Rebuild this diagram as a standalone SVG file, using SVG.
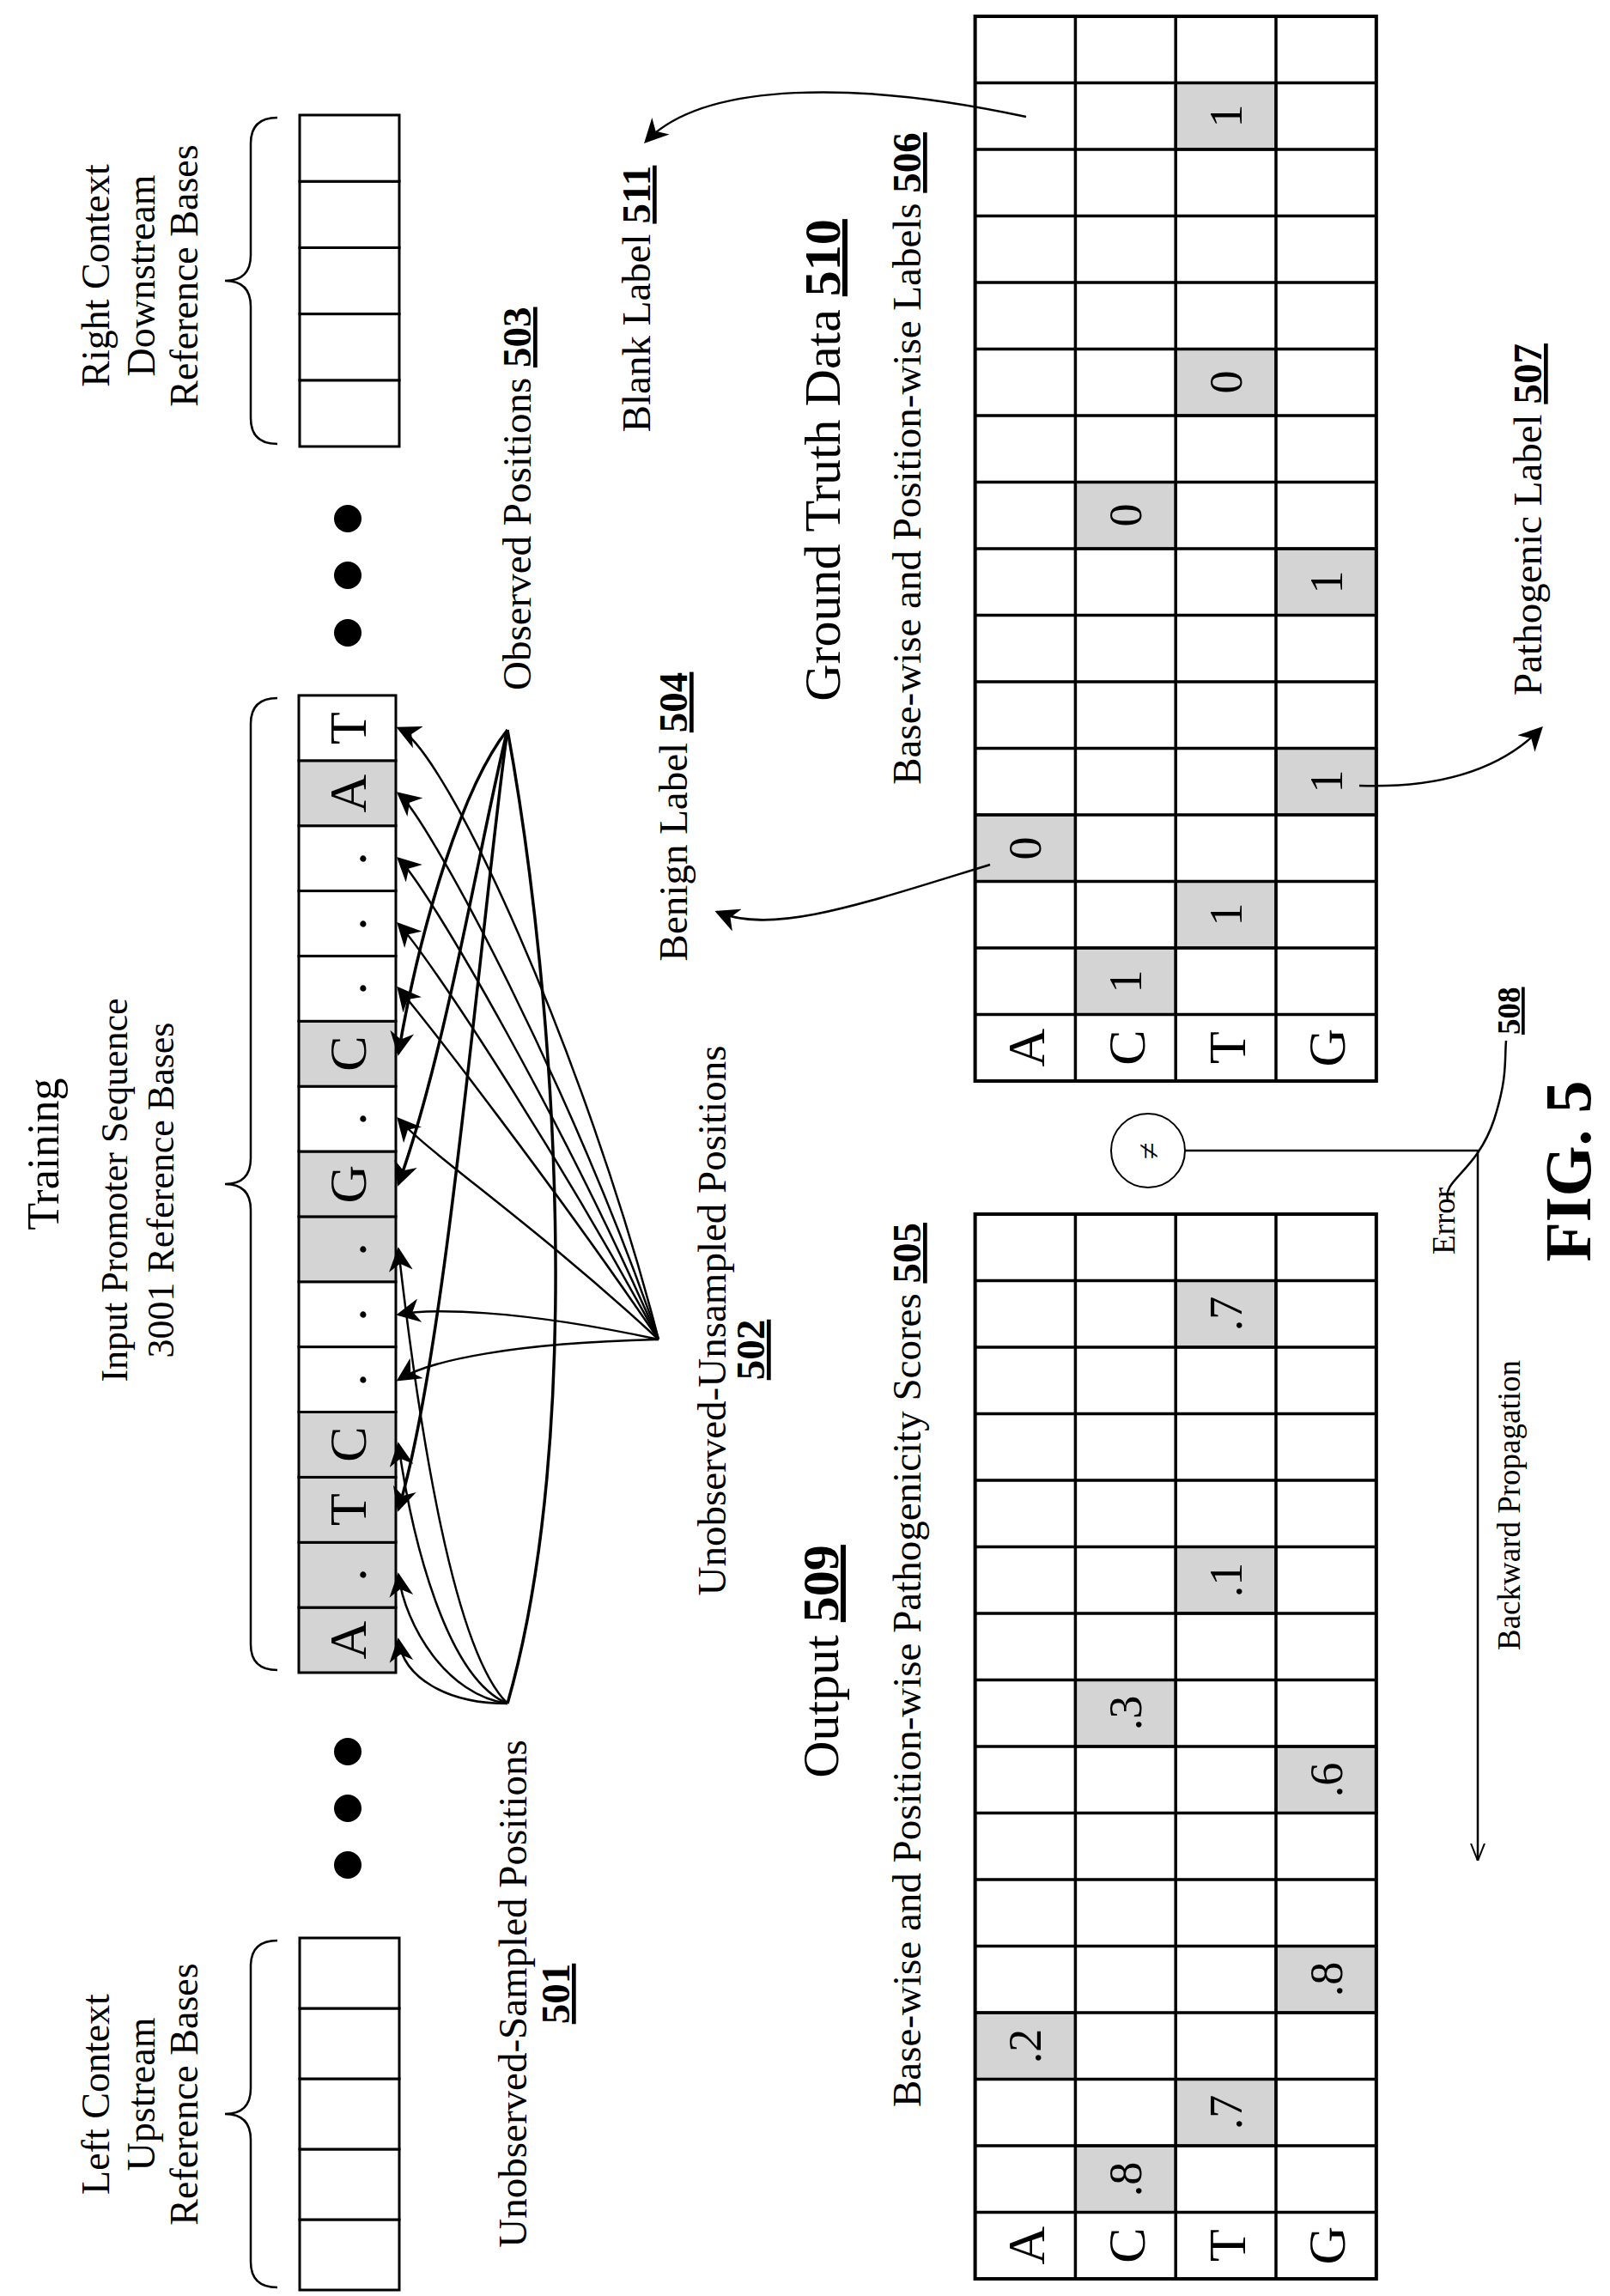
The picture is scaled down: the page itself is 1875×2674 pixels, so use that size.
<svg xmlns="http://www.w3.org/2000/svg" width="1875" height="2674" viewBox="0 0 1875 2674">
<style>
text{font-family:"Liberation Serif","Times New Roman",serif;fill:#000}
.t34{font-size:47px}.t36{font-size:46px}.t28{font-size:37px}.t48{font-size:60px}
.c{text-anchor:middle}
.n{font-weight:bold;text-decoration:underline}
.cell{fill:#fff;stroke:#000;stroke-width:3}
.sh{fill:#d4d4d4;stroke:#000;stroke-width:3}
.gl{font-size:62px;text-anchor:middle}
.gv{font-size:54px;text-anchor:middle}
.sq{font-size:62px;text-anchor:middle}
.ln{fill:none;stroke:#000;stroke-width:2.5}
.lt{fill:none;stroke:#000;stroke-width:3.5}
.br{fill:none;stroke:#000;stroke-width:2.5}
</style>
<defs>
<marker id="a2" viewBox="0 0 10 10" refX="9" refY="5" markerWidth="28" markerHeight="28" markerUnits="userSpaceOnUse" orient="auto">
<path d="M0,0 L10,5 L0,10 L3,5 z" fill="#000"/>
</marker>
<marker id="open" viewBox="0 0 10 10" refX="10" refY="5" markerWidth="20" markerHeight="20" markerUnits="userSpaceOnUse" orient="auto">
<path d="M0,1 L10,5 L0,9" fill="none" stroke="#000" stroke-width="1"/>
</marker>
</defs>
<g transform="translate(0,2674) rotate(-90)">
<text id="title" class="c" style="font-size:52px" x="1330" y="68">Training</text>

<g id="left-context">
<rect class="cell" x="7" y="349" width="82" height="116"/>
<rect class="cell" x="89" y="349" width="82" height="116"/>
<rect class="cell" x="171" y="349" width="82" height="116"/>
<rect class="cell" x="253" y="349" width="82" height="116"/>
<rect class="cell" x="335" y="349" width="82" height="116"/>
<path class="br" d="M10,323 Q10,292 40,292 L182,292 Q212,292 212,262 Q212,292 242,292 L384,292 Q414,292 414,323"/>
<text class="t36 c" x="235" y="127">Left Context</text>
<text class="t36 c" x="235" y="180">Upstream</text>
<text class="t36 c" x="235" y="230">Reference Bases</text>
</g>

<g id="right-context">
<rect class="cell" x="2154" y="349" width="77.2" height="116"/>
<rect class="cell" x="2231.2" y="349" width="77.2" height="116"/>
<rect class="cell" x="2308.4" y="349" width="77.2" height="116"/>
<rect class="cell" x="2385.6" y="349" width="77.2" height="116"/>
<rect class="cell" x="2462.8" y="349" width="77.2" height="116"/>
<path class="br" d="M2157,323 Q2157,292 2187,292 L2317,292 Q2347,292 2347,262 Q2347,292 2377,292 L2507,292 Q2537,292 2537,323"/>
<text class="t36 c" x="2353" y="127">Right Context</text>
<text class="t36 c" x="2353" y="180">Downstream</text>
<text class="t36 c" x="2353" y="230">Reference Bases</text>
</g>

<g id="dots">
<circle cx="502" cy="405" r="16"/><circle cx="568" cy="405" r="16"/><circle cx="634" cy="405" r="16"/>
<circle cx="1937" cy="405" r="16"/><circle cx="2004" cy="405" r="16"/><circle cx="2070" cy="405" r="16"/>
</g>

<g id="input-sequence">
<rect class="sh" x="726" y="348" width="75.9" height="113"/>
<rect class="sh" x="801.9" y="348" width="75.9" height="113"/>
<rect class="sh" x="877.7" y="348" width="75.9" height="113"/>
<rect class="sh" x="953.6" y="348" width="75.9" height="113"/>
<rect class="cell" x="1029.5" y="348" width="75.9" height="113"/>
<rect class="cell" x="1105.4" y="348" width="75.9" height="113"/>
<rect class="sh" x="1181.2" y="348" width="75.9" height="113"/>
<rect class="sh" x="1257.1" y="348" width="75.9" height="113"/>
<rect class="cell" x="1333" y="348" width="75.9" height="113"/>
<rect class="sh" x="1408.8" y="348" width="75.9" height="113"/>
<rect class="cell" x="1484.7" y="348" width="75.9" height="113"/>
<rect class="cell" x="1560.6" y="348" width="75.9" height="113"/>
<rect class="cell" x="1636.4" y="348" width="75.9" height="113"/>
<rect class="sh" x="1712.3" y="348" width="75.9" height="113"/>
<rect class="cell" x="1788.2" y="348" width="75.9" height="113"/>
<text class="sq" x="764" y="426">A</text>
<text class="sq" x="840" y="426">.</text>
<text class="sq" x="916" y="426">T</text>
<text class="sq" x="992" y="426">C</text>
<text class="sq" x="1067" y="426">.</text>
<text class="sq" x="1143" y="426">.</text>
<text class="sq" x="1219" y="426">.</text>
<text class="sq" x="1295" y="426">G</text>
<text class="sq" x="1371" y="426">.</text>
<text class="sq" x="1447" y="426">C</text>
<text class="sq" x="1523" y="426">.</text>
<text class="sq" x="1598" y="426">.</text>
<text class="sq" x="1674" y="426">.</text>
<text class="sq" x="1750" y="426">A</text>
<text class="sq" x="1826" y="426">T</text>
<path class="br" d="M729,323 Q729,292 759,292 L1265,292 Q1295,292 1295,262 Q1295,292 1325,292 L1831,292 Q1861,292 1861,323"/>
<text class="c" style="font-size:44px" x="1288" y="148">Input Promoter Sequence</text>
<text class="c" style="font-size:44px" x="1288" y="202">3001 Reference Bases</text>
</g>

<g id="label-501"><text class="t34 c" x="352" y="613">Unobserved-Sampled Positions</text><text class="t34 c n" x="352" y="663">501</text></g>
<g id="label-502"><text class="t34 c" x="1136" y="845">Unobserved-Unsampled Positions</text><text class="t34 c n" x="1102" y="890">502</text></g>
<g id="label-503"><text class="t34" x="1870" y="618">Observed Positions  <tspan class="n">503</tspan></text></g>

<g id="output-509">
<text class="t48 c" x="739" y="976">Output  <tspan class="n">509</tspan></text>
<text class="t34 c" x="735" y="1072">Base-wise and Position-wise Pathogenicity Scores  <tspan class="n">505</tspan></text>
<rect class="cell" x="20" y="1135.6" width="1240" height="467.2"/>
</g>

<g id="gt-510">
<text class="t48 c" x="2138" y="978">Ground Truth Data  <tspan class="n">510</tspan></text>
<text class="t34 c" x="2140" y="1072">Base-wise and Position-wise Labels  <tspan class="n">506</tspan></text>
<rect class="cell" x="1415" y="1135.6" width="1240" height="467.2"/>
</g>

<g id="grids">
<rect class="sh" x="97.5" y="1252.4" width="77.5" height="116.8"/>
<rect class="sh" x="175" y="1369.2" width="77.5" height="116.8"/>
<rect class="sh" x="252.5" y="1135.6" width="77.5" height="116.8"/>
<rect class="sh" x="330" y="1486" width="77.5" height="116.8"/>
<rect class="sh" x="562.5" y="1486" width="77.5" height="116.8"/>
<rect class="sh" x="640" y="1252.4" width="77.5" height="116.8"/>
<rect class="sh" x="795" y="1369.2" width="77.5" height="116.8"/>
<rect class="sh" x="1105" y="1369.2" width="77.5" height="116.8"/>
<rect class="sh" x="1492.5" y="1252.4" width="77.5" height="116.8"/>
<rect class="sh" x="1570" y="1369.2" width="77.5" height="116.8"/>
<rect class="sh" x="1647.5" y="1135.6" width="77.5" height="116.8"/>
<rect class="sh" x="1725" y="1486" width="77.5" height="116.8"/>
<rect class="sh" x="1957.5" y="1486" width="77.5" height="116.8"/>
<rect class="sh" x="2035" y="1252.4" width="77.5" height="116.8"/>
<rect class="sh" x="2190" y="1369.2" width="77.5" height="116.8"/>
<rect class="sh" x="2500" y="1369.2" width="77.5" height="116.8"/>
<path fill="none" stroke="#000" stroke-width="3.5" d="M20,1252.4H1260M20,1369.2H1260M20,1486H1260M1415,1252.4H2655M1415,1369.2H2655M1415,1486H2655
M97.5,1135.6V1602.8M175,1135.6V1602.8M252.5,1135.6V1602.8M330,1135.6V1602.8M407.5,1135.6V1602.8M485,1135.6V1602.8M562.5,1135.6V1602.8M640,1135.6V1602.8M717.5,1135.6V1602.8M795,1135.6V1602.8M872.5,1135.6V1602.8M950,1135.6V1602.8M1027.5,1135.6V1602.8M1105,1135.6V1602.8M1182.5,1135.6V1602.8
M1492.5,1135.6V1602.8M1570,1135.6V1602.8M1647.5,1135.6V1602.8M1725,1135.6V1602.8M1802.5,1135.6V1602.8M1880,1135.6V1602.8M1957.5,1135.6V1602.8M2035,1135.6V1602.8M2112.5,1135.6V1602.8M2190,1135.6V1602.8M2267.5,1135.6V1602.8M2345,1135.6V1602.8M2422.5,1135.6V1602.8M2500,1135.6V1602.8M2577.5,1135.6V1602.8"/>
<rect x="20" y="1135.6" width="1240" height="467.2" fill="none" stroke="#000" stroke-width="4"/>
<rect x="1415" y="1135.6" width="1240" height="467.2" fill="none" stroke="#000" stroke-width="4"/>
<text class="gl" x="59" y="1216">A</text><text class="gl" x="59" y="1333">C</text><text class="gl" x="59" y="1450">T</text><text class="gl" x="59" y="1566">G</text>
<text class="gl" x="1454" y="1216">A</text><text class="gl" x="1454" y="1333">C</text><text class="gl" x="1454" y="1450">T</text><text class="gl" x="1454" y="1566">G</text>
<text class="gv" x="136" y="1329">.8</text><text class="gv" x="214" y="1446">.7</text><text class="gv" x="291" y="1212">.2</text><text class="gv" x="369" y="1563">.8</text>
<text class="gv" x="601" y="1563">.6</text><text class="gv" x="679" y="1329">.3</text><text class="gv" x="834" y="1446">.1</text><text class="gv" x="1144" y="1446">.7</text>
<text class="gv" x="1531" y="1329">1</text><text class="gv" x="1609" y="1446">1</text><text class="gv" x="1686" y="1212">0</text><text class="gv" x="1764" y="1563">1</text>
<text class="gv" x="1996" y="1563">1</text><text class="gv" x="2074" y="1329">0</text><text class="gv" x="2229" y="1446">0</text><text class="gv" x="2539" y="1446">1</text>
</g>

<g id="label-511"><text class="t34 c" x="2326" y="757">Blank Label  <tspan class="n">511</tspan></text></g>
<g id="label-504"><text class="t34 c" x="1723" y="800">Benign Label  <tspan class="n">504</tspan></text></g>
<g id="label-507"><text class="t34 c" x="2069" y="1795">Pathogenic Label <tspan class="n">507</tspan></text></g>
<g id="neq"><circle cx="1334" cy="1337" r="43" fill="#fff" stroke="#000" stroke-width="2"/><text class="c" x="1334" y="1350" style="font-size:36px">≠</text></g>
<g id="error"><text class="t28 c" x="1252" y="1694">Error</text><text class="t28 n" x="1469" y="1770">508</text></g>
<text class="t28 c" x="921" y="1770">Backward Propagation</text>
<text class="c" x="1310" y="1852" style="font-size:76px;font-weight:bold">FIG. 5</text>

<g id="connectors">
<path class="ln" marker-end="url(#a2)" d="M690,591 C690,520 720,470 764,464"/>
<path class="ln" marker-end="url(#a2)" d="M690,591 C700,520 780,472 840,464"/>
<path class="ln" marker-end="url(#a2)" d="M690,591 C720,520 880,480 992,464"/>
<path class="ln" marker-end="url(#a2)" d="M690,591 C760,520 1080,480 1219,464"/>
<path class="lt" d="M690,591 C1000,680 1500,650 1824,591"/>
<path class="lt" marker-end="url(#a2)" d="M1824,591 C1600,560 1100,520 916,464"/>
<path class="lt" marker-end="url(#a2)" d="M1824,591 C1700,560 1450,520 1295,464"/>
<path class="lt" marker-end="url(#a2)" d="M1824,591 C1760,540 1600,490 1447,464"/>
<path class="ln" marker-end="url(#a2)" d="M1114,767 C1110,600 1090,500 1067,464"/>
<path class="ln" marker-end="url(#a2)" d="M1114,767 C1150,600 1150,500 1143,464"/>
<path class="ln" marker-end="url(#a2)" d="M1114,767 C1250,620 1330,500 1371,464"/>
<path class="ln" marker-end="url(#a2)" d="M1114,767 C1300,640 1480,500 1523,464"/>
<path class="ln" marker-end="url(#a2)" d="M1114,767 C1330,650 1560,500 1598,464"/>
<path class="ln" marker-end="url(#a2)" d="M1114,767 C1360,660 1640,500 1674,464"/>
<path class="ln" marker-end="url(#a2)" d="M1114,767 C1400,670 1720,500 1750,464"/>
<path class="ln" marker-end="url(#a2)" d="M1114,767 C1450,680 1800,520 1826,464"/>
<path class="ln" marker-end="url(#a2)" d="M2538,1195 C2580,1000 2580,820 2509,752"/>
<path class="ln" marker-end="url(#a2)" d="M1667,1153 C1620,1000 1585,900 1612,835"/>
<path class="ln" marker-end="url(#a2)" d="M1759,1583 C1755,1700 1790,1760 1826,1795"/>
<path class="ln" stroke-width="1.8" marker-end="url(#open)" d="M1334,1380 L1334,1721 L507,1721"/>
<path class="ln" stroke-width="1.5" d="M1277,1686 C1300,1680 1310,1720 1370,1740 C1420,1756 1440,1752 1462,1754"/>
</g>
</g>
</svg>
